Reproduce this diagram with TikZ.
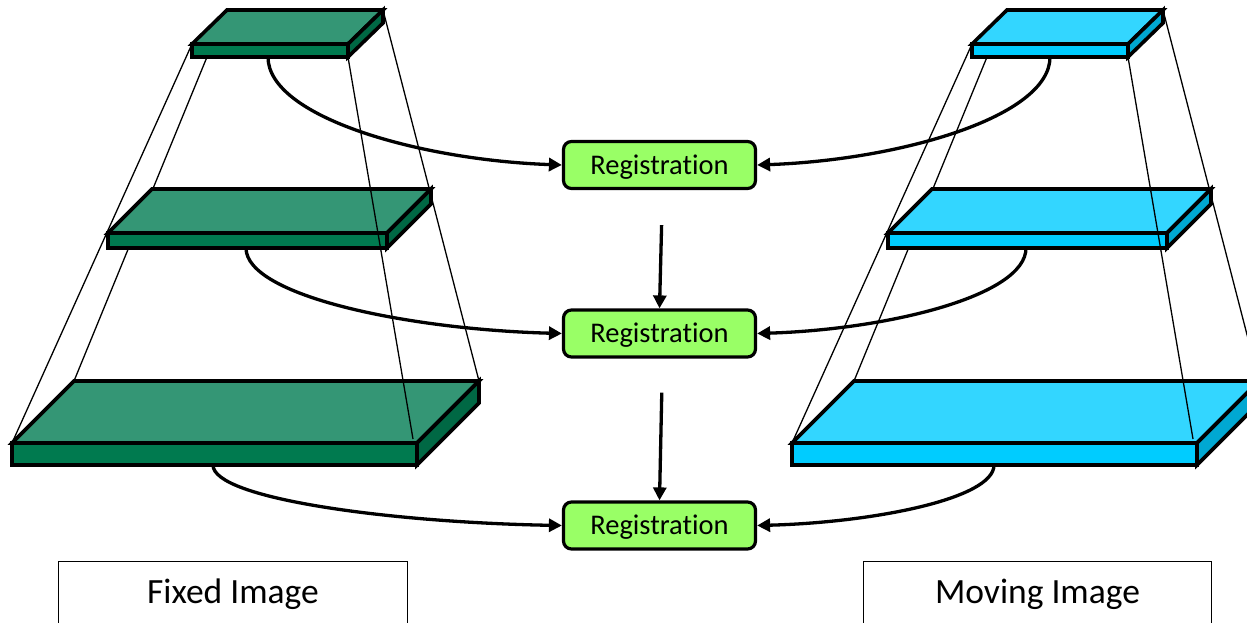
\documentclass[tikz,border=0pt]{standalone}
\usepackage{fontspec}
\newfontfamily\calib[Ligatures=NoCommon]{Carlito}
\usetikzlibrary{arrows.meta,calc}

\definecolor{greentop}{HTML}{349675}
\definecolor{greenfront}{HTML}{007A4F}
\definecolor{greenside}{HTML}{006844}
\definecolor{cyantop}{HTML}{33D6FF}
\definecolor{cyanfront}{HTML}{00CCFF}
\definecolor{cyanside}{HTML}{00A8D2}
\definecolor{regfill}{HTML}{99FF66}

% corner points of a flat slab: name, front-left x, front-left y, width, depth dx, depth dy, thickness
\newcommand\slabpts[7]{%
  \coordinate (#1-fl)  at (#2,#3);
  \coordinate (#1-fr)  at (#2+#4,#3);
  \coordinate (#1-bl)  at (#2+#5,#3-#6);
  \coordinate (#1-br)  at (#2+#4+#5,#3-#6);
  \coordinate (#1-flb) at (#2,#3+#7);
  \coordinate (#1-frb) at (#2+#4,#3+#7);
  \coordinate (#1-brb) at (#2+#4+#5,#3-#6+#7);
}
% the three visible faces of a slab: name, palette
\newcommand\slabfill[2]{%
  \filldraw[slabedge, fill=#2top]   (#1-fl) -- (#1-bl) -- (#1-br) -- (#1-fr) -- cycle;
  \filldraw[slabedge, fill=#2front] (#1-fl) -- (#1-fr) -- (#1-frb) -- (#1-flb) -- cycle;
  \filldraw[slabedge, fill=#2side]  (#1-fr) -- (#1-br) -- (#1-brb) -- (#1-frb) -- cycle;
}

\begin{document}
\begin{tikzpicture}[x=1pt, y=-1pt,
  slabedge/.style={draw=black, line width=3.6pt, line join=miter},
  guide/.style={draw=black, line width=1.3pt},
  arr/.style={draw=black, line width=3.3pt, -{Triangle[length=13pt,width=13pt]}},
  regbox/.style={draw=black, line width=3.2pt, rounded corners=8pt, fill=regfill,
    minimum width=192pt, minimum height=47pt, inner sep=0pt,
    font=\calib\fontsize{28.5}{32}\selectfont, text height=18pt, text depth=0pt},
  labelbox/.style={draw=black, line width=1.3pt, minimum height=62pt, inner sep=0pt,
    font=\calib\fontsize{35.5}{40}\selectfont, text height=22.3pt, text depth=0pt}]

\useasboundingbox (0,0) rectangle (1247,622);
\clip (0,0) rectangle (1247,622);

% ---- slab geometry ----
\slabpts{Lt}{192}{44}{156}{35}{34}{13}
\slabpts{Lm}{108}{233}{279}{44}{44}{15}
\slabpts{Lb}{12}{443}{405}{62}{62}{22}
\slabpts{Rt}{972}{44}{156}{35}{34}{13}
\slabpts{Rm}{888}{233}{279}{44}{44}{15}
\slabpts{Rb}{792}{443}{405}{62}{62}{22}

\foreach \p in {L,R}{
  \coordinate (\p t-inl) at ($(\p t-flb)+(15,0)$);
  \coordinate (\p b-inr) at ($(\p b-fr)+(-4,-4)$);
}

% ---- pyramid guide lines behind the slabs ----
\foreach \p in {L,R}{
  \draw[guide] (\p t-fl) -- (\p b-fl);
  \draw[guide] (\p t-inl) -- (\p b-bl);
  \draw[guide] (\p t-br) -- (\p b-br);
}

% ---- slabs ----
\slabfill{Lt}{green}
\slabfill{Lm}{green}
\slabfill{Lb}{green}
\slabfill{Rt}{cyan}
\slabfill{Rm}{cyan}
\slabfill{Rb}{cyan}

% ---- guide line in front of the slabs ----
\foreach \p in {L,R}{
  \draw[guide] (\p t-frb) -- (\p b-inr);
}

% ---- registration stages ----
\node[regbox] (reg1) at (659.5,165)   {Registration};
\node[regbox] (reg2) at (659.5,333.5) {Registration};
\node[regbox] (reg3) at (659.5,525.5) {Registration};

\draw[arr, shorten <=35pt] ([xshift=3pt]reg1.south) -- (reg2.north);
\draw[arr, shorten <=34pt] ([xshift=3pt]reg2.south) -- (reg3.north);

% ---- curved links from each level ----
\coordinate (Lt-out) at (268,57);
\coordinate (Lm-out) at (246,248);
\coordinate (Lb-out) at (213,465);
\coordinate (Rt-out) at (1050,57);
\coordinate (Rm-out) at (1026,248);
\coordinate (Rb-out) at (994,465);

\draw[arr] (Lt-out) .. controls +(0,60) and +(-142,-5) .. (reg1.west);
\draw[arr] (Lm-out) .. controls +(0,48) and +(-153,-4) .. (reg2.west);
\draw[arr] (Lb-out) .. controls +(0,34) and +(-169,-3) .. (reg3.west);
\draw[arr] (Rt-out) .. controls +(0,60) and +(142,-5) .. (reg1.east);
\draw[arr] (Rm-out) .. controls +(0,48) and +(130,-4) .. (reg2.east);
\draw[arr] (Rb-out) .. controls +(0,34) and +(115,-3) .. (reg3.east);

% ---- captions ----
\node[labelbox, minimum width=349pt] (fixed)  at (233,592.5)    {Fixed Image};
\node[labelbox, minimum width=348pt] (moving) at (1037.5,592.5) {Moving Image};
\end{tikzpicture}
\end{document}
